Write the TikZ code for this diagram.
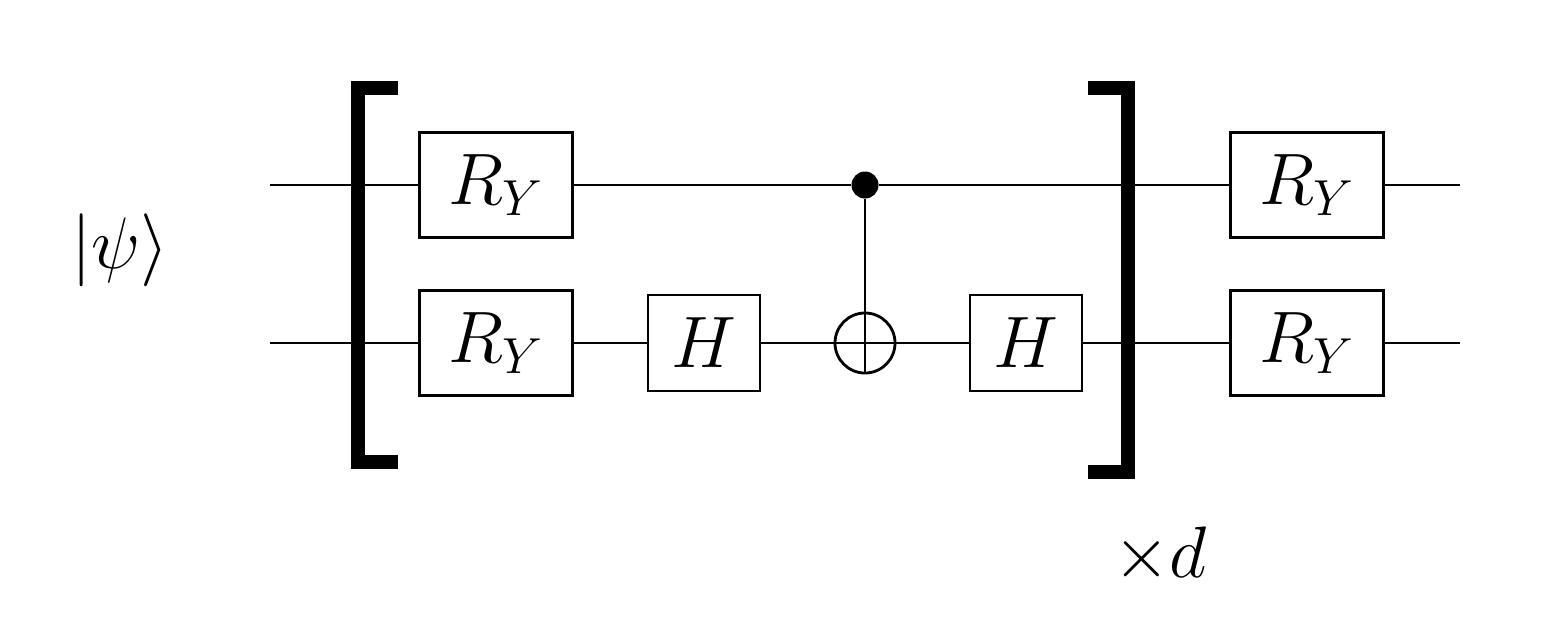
\documentclass[tikz,border=0pt]{standalone}
\usepackage{amsmath}
\usetikzlibrary{positioning}
\begin{document}
\begin{tikzpicture}[x=0.01cm,y=-0.01cm,
    gate/.style={draw, thick, minimum width=1.53cm, minimum height=1.05cm, font=\fontsize{21}{24}\selectfont},
    hgate/.style={draw, thick, minimum width=1.12cm, minimum height=0.96cm, font=\fontsize{21}{24}\selectfont},
    wire/.style={thick},
    bracket/.style={line width=4pt}]
    \useasboundingbox (0,0) rectangle (1567,629);

    % wire ends
    \coordinate (inA) at (270,185);
    \coordinate (inB) at (270,343);
    \coordinate (outA) at (1460,185);
    \coordinate (outB) at (1460,343);

    \node[font=\fontsize{21}{24}\selectfont] (psi) at (120,250) {$|\psi\rangle$};

    % gates
    \node[gate] (ryA) at (496,185) {$R_Y$};
    \node[gate] (ryB) at (496,343) {$R_Y$};
    \node[hgate] (hA) at (704,343) {$H$};
    \node[hgate] (hB) at (1026,343) {$H$};
    \node[gate] (ryC) at (1307,185) {$R_Y$};
    \node[gate] (ryD) at (1307,343) {$R_Y$};
    \node[circle, draw, thick, minimum size=0.6cm, inner sep=0pt] (tgt) at (865,343) {};
    \node[circle, fill, minimum size=0.27cm, inner sep=0pt] (ctl) at (865,185) {};

    % wires
    \draw[wire] (inA) -- (ryA) -- (ctl) -- (ryC) -- (outA);
    \draw[wire] (inB) -- (ryB) -- (hA) -- (tgt) -- (hB) -- (ryD) -- (outB);
    \draw[wire] (ctl) -- (tgt.south);
    \draw[wire] (tgt.west) -- (tgt.east);

    % brackets
    \draw[bracket] (398,88) -- (358,88) -- (358,462) -- (398,462);
    \draw[bracket] (1088,88) -- (1128,88) -- (1128,472) -- (1088,472);

    \node[font=\fontsize{21}{24}\selectfont] (rep) at (1160,555) {$\times d$};
\end{tikzpicture}
\end{document}
